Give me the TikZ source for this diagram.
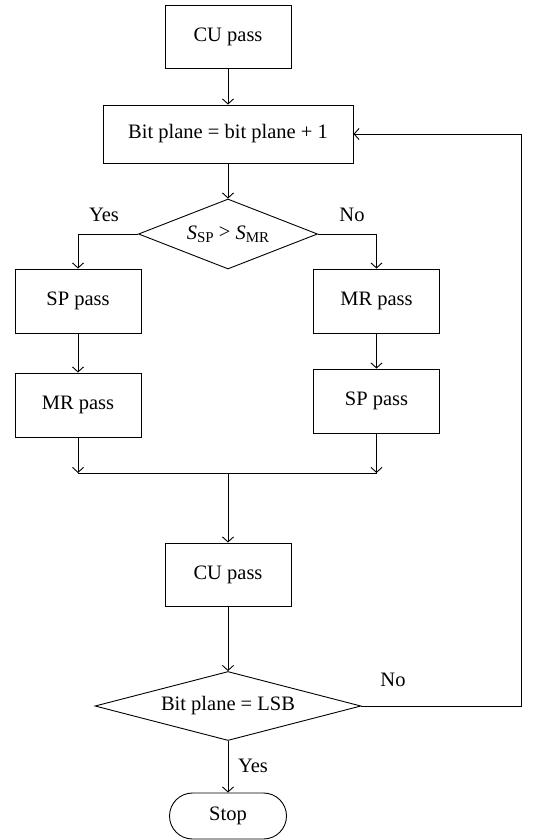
\documentclass[tikz,border=0pt]{standalone}
\usepackage{fontspec}
\setmainfont{Liberation Serif}
\usetikzlibrary{arrows.meta,shapes.geometric,shapes.misc}
\begin{document}
\begin{tikzpicture}[x=1pt,y=-1pt,
  every node/.style={font=\fontsize{20.5}{24}\selectfont},
  box/.style={draw,line width=0.9pt,minimum width=126pt,minimum height=63pt,inner sep=0pt},
  dia/.style={draw,diamond,line width=0.9pt,inner sep=0pt},
  term/.style={draw,rounded rectangle,line width=0.9pt,minimum width=117pt,minimum height=46pt,inner sep=0pt},
  lbl/.style={inner sep=0pt},
  conn/.style={line width=0.9pt},
  arr/.style={conn,-{Straight Barb[length=5pt,width=11pt,line width=0.9pt]}}]
\useasboundingbox (0,0) rectangle (546,840);
\node[box] (cu1) at (228,36.5) {CU pass};
\node[box,minimum width=250pt,minimum height=58pt] (bp) at (228,134) {Bit plane = bit plane + 1};
\node[dia,aspect=2.56,minimum width=179pt,minimum height=70pt] (d1) at (228,234)
  {\textit{S}\raisebox{-0.35ex}{\fontsize{15}{17}\selectfont SP} \raisebox{0.1ex}{>} \textit{S}\raisebox{-0.35ex}{\fontsize{15}{17}\selectfont MR}};
\node[box,minimum height=64pt] (spL) at (78,301) {SP pass};
\node[box,minimum height=64pt] (mrL) at (78,405) {MR pass};
\node[box,minimum height=64pt] (mrR) at (376.5,301) {MR pass};
\node[box,minimum height=64pt] (spR) at (376.5,401) {SP pass};
\coordinate (join) at (228,473);
\node[box] (cu2) at (228,574.5) {CU pass};
\node[dia,aspect=3.85,minimum width=266pt,minimum height=69pt] (d2) at (228,706) {Bit plane = LSB};
\node[term] (stop) at (228,816) {Stop};
\coordinate (loop) at (521,706);
\node[lbl] (yes1) at (104,215) {Yes};
\node[lbl] (no1) at (352,215) {No};
\node[lbl] (no2) at (393,680) {No};
\node[lbl] (yes2) at (253,766) {Yes};
\draw[arr] (cu1.south) -- (bp.north);
\draw[arr] (bp.south) -- (d1.north);
\draw[arr] (d1.west) -| (spL.north);
\draw[arr] (d1.east) -| (mrR.north);
\draw[arr] (spL.south) -- (mrL.north);
\draw[arr] (mrR.south) -- (spR.north);
\draw[arr] (mrL.south) -- (mrL.south |- join);
\draw[arr] (spR.south) -- (spR.south |- join);
\draw[conn] (mrL.south |- join) -- (spR.south |- join);
\draw[arr] (join) -- (join |- cu2.north);
\draw[arr] (cu2.south) -- (d2.north);
\draw[arr] (d2.east) -- (loop) |- (bp.east);
\draw[arr] (d2.south) -- (stop.north);
\end{tikzpicture}
\end{document}
